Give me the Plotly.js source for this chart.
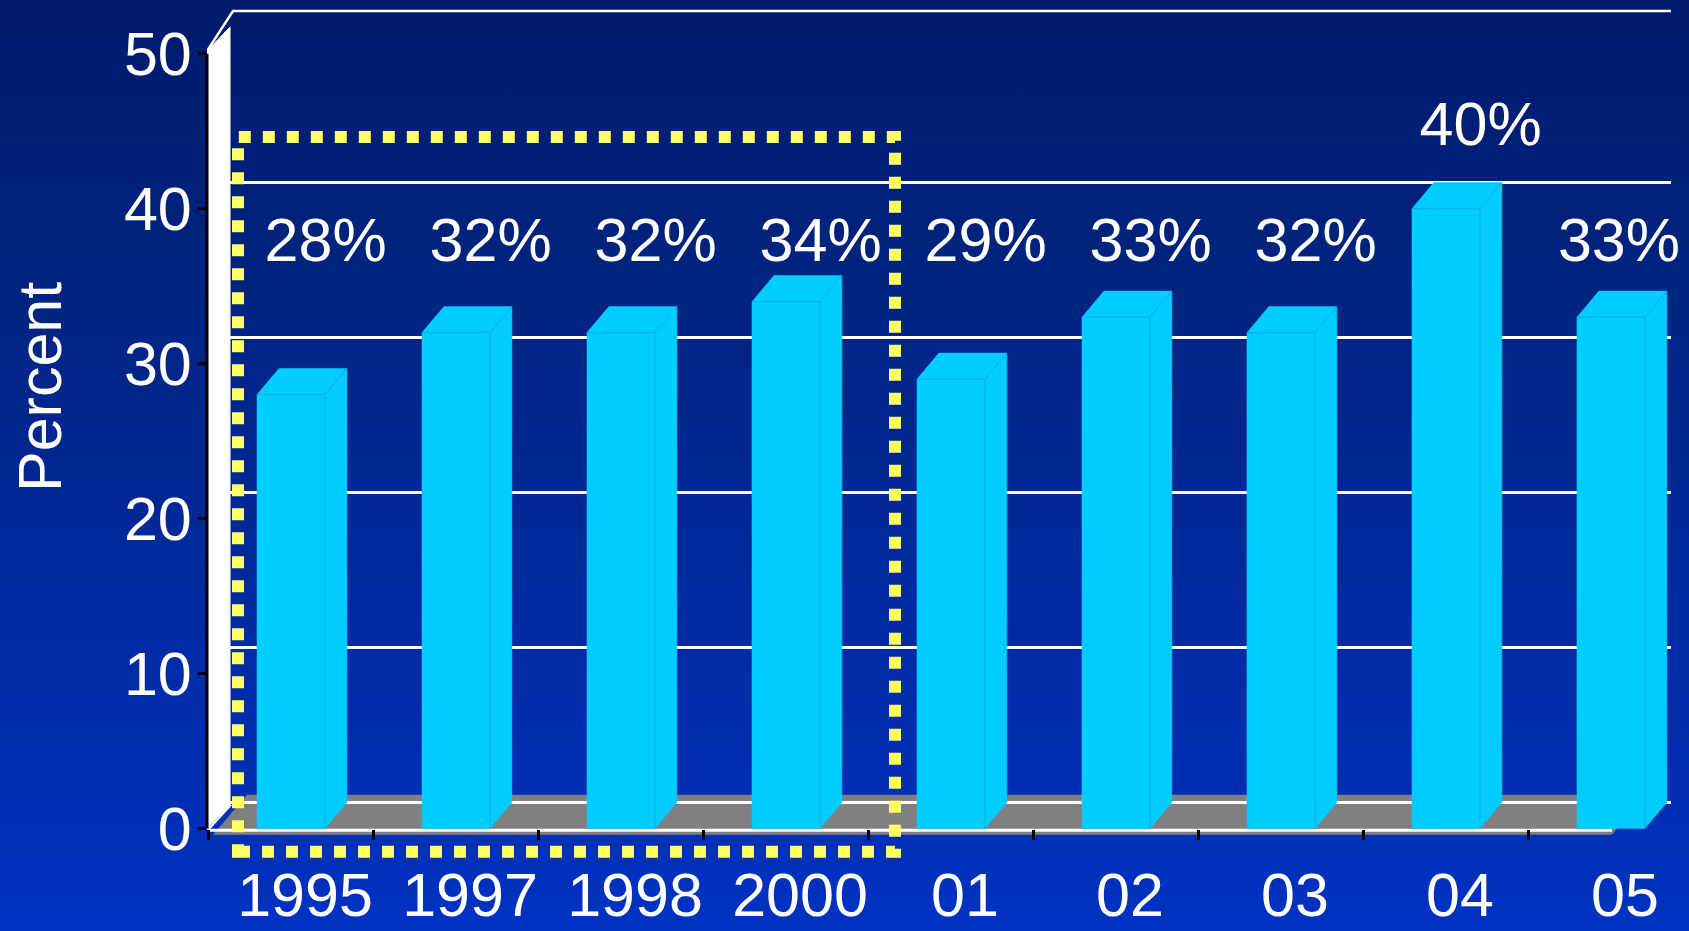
<!DOCTYPE html>
<html>
<head>
<meta charset="utf-8">
<script src="https://cdn.plot.ly/plotly-3.0.1.min.js"></script>
<style>
  html, body { margin:0; padding:0; width:1689px; height:931px; overflow:hidden;
    background: linear-gradient(to bottom, #001a6c 0%, #00247f 30%, #002aa0 65%, #0032c2 100%); }
  #chart { width:1689px; height:931px; }
</style>
</head>
<body>
<div id="chart"></div>
<script>
// ---- data ----
const categories = ['1995', '1997', '1998', '2000', '01', '02', '03', '04', '05'];
const values = [28, 32, 32, 34, 29, 33, 32, 40, 33];
const yTickValues = [0, 10, 20, 30, 40, 50];
const yTitle = 'Percent';

// ---- geometry (axis ranges / pixel helpers) ----
const X0 = -0.509, X1 = 8.364, Y0 = -3, Y1 = 53.4;
const ML = 207, MT = 1, PXX = 165, PXY = 15.5;
const dxp = p => X0 + (p - ML) / PXX;      // pixel x -> data x
const dyp = p => Y1 - (p - MT) / PXY;      // pixel y -> data y
const HW = 0.206, DX = 0.133, DY = 1.68;   // bar half width, depth
const GRID_OFF = 1.68;                     // back-wall gridline offset

const font = '"Liberation Sans", Arial, Helvetica, sans-serif';
const idx = categories.map((c, i) => i);
const traces = [];

// left wall (white slab)
const wall = [[207,829],[207,51],[230,27],[230,805],[207,829]];
traces.push({type:'scatter', mode:'lines', x: wall.map(p=>dxp(p[0])), y: wall.map(p=>dyp(p[1])),
  fill:'toself', fillcolor:'#ffffff', line:{color:'#ffffff', width:1}, hoverinfo:'skip', showlegend:false});

// bars as 3D prisms
values.forEach((v, i) => {
  const xs = [i-HW, i-HW, i-HW+DX, i+HW+DX, i+HW+DX, i+HW, i-HW];
  const ys = [0, v, v+DY, v+DY, DY, 0, 0];
  traces.push({type:'scatter', mode:'lines', x:xs, y:ys, fill:'toself', fillcolor:'#00ccff',
    line:{color:'#00ccff', width:0.5}, hoverinfo:'skip', showlegend:false});
  traces.push({type:'scatter', mode:'lines',
    x:[i-HW, i+HW, i+HW, null, i+HW, i+HW+DX],
    y:[v, v, 0, null, v, v+DY],
    line:{color:'rgba(0,130,205,0.45)', width:1}, hoverinfo:'skip', showlegend:false});
});

// value labels (kept inside the right edge)
const labelMaxX = dxp(1619);
traces.push({type:'scatter', mode:'text', x: idx.map(i => Math.min(i + 0.21, labelMaxX)),
  y: values.map(v => v > 35 ? v + 5.1 : 37.6),
  text: values.map(v => v + '%'), textposition:'middle center',
  textfont:{family:font, size:61, color:'#ffffff'}, cliponaxis:false, hoverinfo:'skip', showlegend:false});

// dummy trace to activate the back-wall grid axis
traces.push({type:'scatter', mode:'lines', x:[null], y:[null], yaxis:'y2', hoverinfo:'skip', showlegend:false});

const pathOf = pts => pts.map((p, k) => (k ? 'L' : 'M') + dxp(p[0]) + ',' + dyp(p[1])).join(' ');

const shapes = [
  // floor
  {type:'path', xref:'x', yref:'y', layer:'below',
   path: pathOf([[213,835],[247,795],[1645,795],[1612,835]]) + ' Z',
   fillcolor:'#808080', line:{width:0}},
  // front edge of floor
  {type:'line', xref:'x', yref:'y', layer:'below', x0:dxp(207), x1:dxp(1612), y0:dyp(830.5), y1:dyp(830.5),
   line:{color:'#ffffff', width:3}},
  // floor left diagonal edge
  {type:'line', xref:'x', yref:'y', layer:'above', x0:dxp(209), x1:dxp(231), y0:dyp(829), y1:dyp(805),
   line:{color:'#ffffff', width:2}},
  // back wall top edge
  {type:'path', xref:'x', yref:'y', layer:'above', path: pathOf([[207,51],[233,11],[1671,11]]),
   line:{color:'#ffffff', width:2.5}},
  // front y axis line
  {type:'line', xref:'paper', yref:'y', layer:'above', x0:0, x1:0, y0:0, y1:50,
   line:{color:'#000000', width:3}},
  // yellow dotted highlight box
  {type:'rect', xref:'x', yref:'y', layer:'above', x0:dxp(238), x1:dxp(895), y0:dyp(852), y1:dyp(137),
   line:{color:'#ffff66', width:12, dash:'dot'}, fillcolor:'rgba(0,0,0,0)'}
];

const layout = {
  width:1689, height:931,
  margin:{l:ML, r:18, t:MT, b:56},
  paper_bgcolor:'rgba(0,0,0,0)', plot_bgcolor:'rgba(0,0,0,0)',
  showlegend:false,
  font:{family:font, color:'#ffffff', size:61},
  xaxis:{type:'linear', range:[X0, X1], tickmode:'array', tickvals:idx, ticktext:categories,
    ticks:'', showgrid:false, zeroline:false, showline:false,
    anchor:'free', position: (0 - Y0) / (Y1 - Y0),
    ticklabelstandoff:25, ticklabelshift:14,
    tickfont:{family:font, size:61, color:'#ffffff'},
    minor:{tickmode:'array', tickvals: idx.slice(0, -1).map(i => i - 0.5).concat([idx.length - 1.5]),
      ticks:'outside', ticklen:10, tickwidth:3, tickcolor:'#000000', showgrid:false},
    fixedrange:true},
  yaxis:{range:[Y0, Y1], tickmode:'array', tickvals:yTickValues, ticks:'outside', ticklen:8, tickwidth:3,
    tickcolor:'#000000', showgrid:false, zeroline:false, showline:false, ticklabelstandoff:-6,
    tickfont:{family:font, size:61, color:'#ffffff'}, fixedrange:true},
  yaxis2:{overlaying:'y', range:[Y0 - GRID_OFF, Y1 - GRID_OFF], tickmode:'array',
    tickvals:yTickValues.filter(v => v < 50), showticklabels:false, ticks:'',
    showgrid:true, gridcolor:'#ffffff', gridwidth:2.5, zeroline:false, showline:false, fixedrange:true},
  shapes: shapes,
  annotations:[{xref:'paper', yref:'paper', x:(40 - ML) / 1464, y:(875 - 387) / 874, text:yTitle,
    textangle:-90, showarrow:false, font:{family:font, size:61, color:'#ffffff'},
    xanchor:'center', yanchor:'middle'}]
};

Plotly.newPlot('chart', traces, layout, {displayModeBar:false, staticPlot:true});
</script>
</body>
</html>
